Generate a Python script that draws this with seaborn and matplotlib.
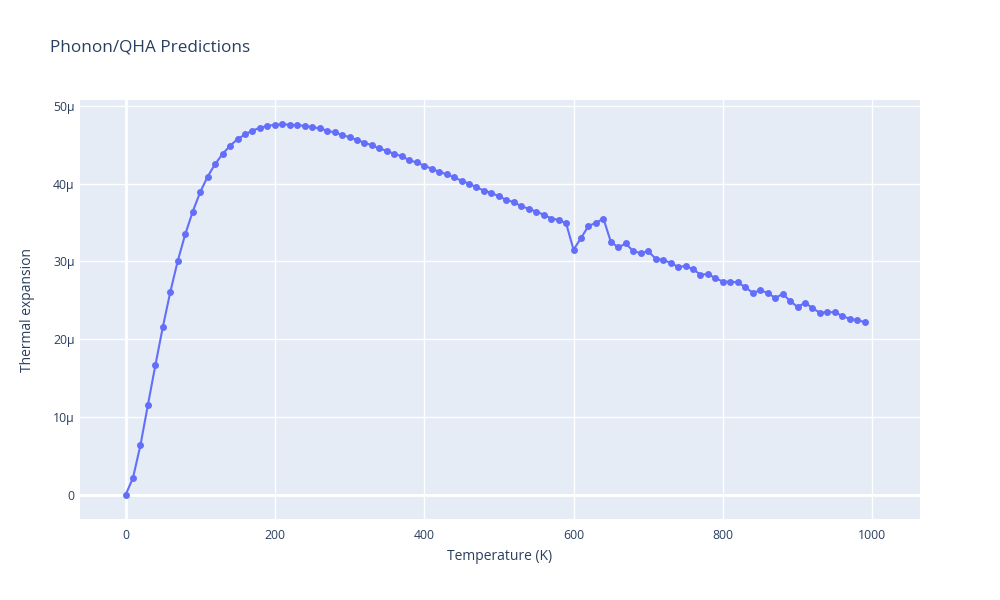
import matplotlib
matplotlib.use("Agg")
import matplotlib.pyplot as plt
import seaborn as sns
import pandas as pd

temperature = list(range(0, 1000, 10))
expansion_micro = [
    0.0, 2.22, 6.42, 11.6, 16.7, 21.6, 26.1, 30.1, 33.5, 36.4,
    38.9, 40.9, 42.5, 43.8, 44.85, 45.7, 46.3, 46.8, 47.15, 47.4,
    47.55, 47.6, 47.55, 47.5, 47.4, 47.25, 47.07, 46.8, 46.56, 46.26,
    45.93, 45.6, 45.25, 44.9, 44.5, 44.2, 43.8, 43.5, 43.0, 42.7,
    42.3, 41.9, 41.5, 41.2, 40.8, 40.35, 40.0, 39.5, 39.1, 38.8,
    38.35, 37.9, 37.6, 37.1, 36.75, 36.4, 36.0, 35.5, 35.35, 34.9,
    31.5, 33.0, 34.55, 34.95, 35.5, 32.5, 31.8, 32.3, 31.3, 31.07,
    31.3, 30.35, 30.2, 29.8, 29.3, 29.4, 29.0, 28.3, 28.37, 27.86,
    27.4, 27.4, 27.3, 26.7, 25.97, 26.28, 25.97, 25.3, 25.8, 24.95,
    24.13, 24.7, 24.0, 23.4, 23.5, 23.45, 23.0, 22.6, 22.46, 22.2,
]
expansion = [v * 1e-6 for v in expansion_micro]

y_ticks = [0, 10e-6, 20e-6, 30e-6, 40e-6, 50e-6]
y_tick_labels = ["0", "10µ", "20µ", "30µ", "40µ", "50µ"]
x_ticks = [0, 200, 400, 600, 800, 1000]

df = pd.DataFrame({"Temperature (K)": temperature, "Thermal expansion": expansion})

sns.set_theme(style="white")
plt.rcParams["font.family"] = ["Open Sans", "DejaVu Sans"]

text_color = "#2a3f5f"
fig = plt.figure(figsize=(10, 6), dpi=100)
ax = fig.add_axes([0.08, 0.135, 0.84, 0.698])
ax.set_facecolor("#E5ECF6")

sns.lineplot(data=df, x="Temperature (K)", y="Thermal expansion", ax=ax,
             color="#636EFA", linewidth=1.5, marker="o", markersize=5,
             markeredgewidth=0, zorder=3)

ax.set_xlim(-61, 1064)
ax.set_ylim(-3.08e-6, 50.7e-6)
ax.set_xticks(x_ticks)
ax.set_yticks(y_ticks)
ax.set_yticklabels(y_tick_labels)

ax.grid(True, color="white", linewidth=1, zorder=0)
ax.axhline(0, color="white", linewidth=2, zorder=1)
ax.axvline(0, color="white", linewidth=2, zorder=1)
for s in ax.spines.values():
    s.set_visible(False)
ax.tick_params(axis="both", length=0, labelsize=8.8, labelcolor=text_color)
ax.tick_params(axis="x", pad=7)
ax.tick_params(axis="y", pad=4)

ax.set_xlabel("Temperature (K)", fontsize=10, color=text_color, labelpad=5)
ax.set_ylabel("Thermal expansion", fontsize=10, color=text_color, labelpad=13)

fig.text(0.05, 0.915, "Phonon/QHA Predictions", fontsize=12.3, color=text_color,
         ha="left", va="baseline")

fig.savefig("out.png", dpi=100)
